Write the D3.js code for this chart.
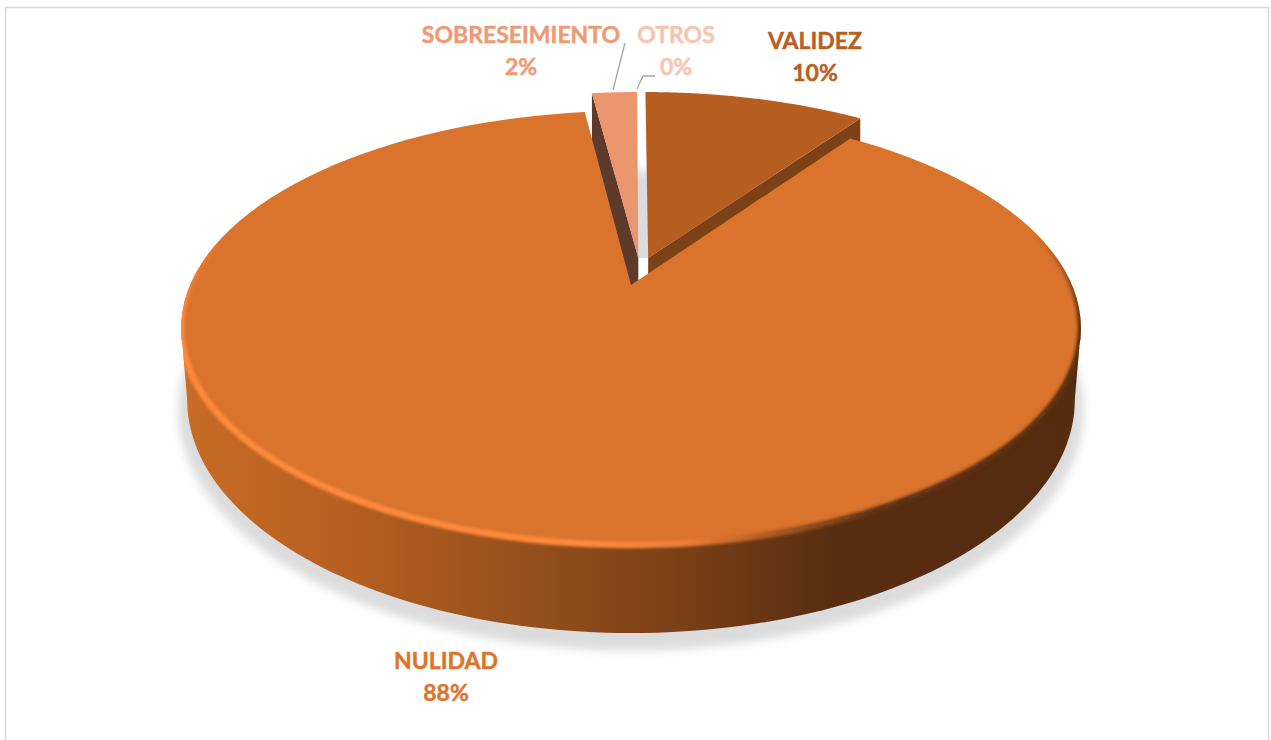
<!DOCTYPE html>
<html><head><meta charset="utf-8">
<script src="https://cdn.jsdelivr.net/npm/d3@7"></script>
<style>html,body{margin:0;padding:0;background:#fff;overflow:hidden}svg{display:block}
text{font-family:Lato,"Open Sans",sans-serif;font-weight:700;font-size:23px;text-anchor:middle;stroke-width:.45px;paint-order:stroke}</style>
</head><body><svg id="c" width="1271" height="740"></svg>
<script>
const categories=["VALIDEZ","NULIDAD","SOBRESEIMIENTO","OTROS"];
const values=[9.8,88.2,2,0];
const faceColors=["#b65e20","#da732c","#ec9670","#ffffff"];
const cutColors=["#7c4116","#7c4116","#5e3a2a","#ffffff"];
const labelColors=["#b85f22","#dc742c","#ee9a75","#f6c5b2"];
const explodeU=[0.04,0,0.017,0.03];
const explodeV=[-0.133,0,-0.133,-0.133];
const labelX=[815,446,521,676];
const labelY=[49,669,43,43];

const svg=d3.select("#c");
const defs=svg.append("defs");
const TOP={x0:631,y0:285,R:441,A:208.5,k:0.198};
const LOW={x0:631,y0:354,R:435,A:223.8,k:0.198};
const proj=(P,u,v)=>{const w=1/(1-P.k*v);return [P.x0+P.R*u*w,P.y0+P.A*v*w];};
const pt=(P,a,eu=0,ev=0,r=1)=>proj(P,r*Math.sin(a)+eu,-r*Math.cos(a)+ev);
const line=d3.line();
const arcPts=(P,a0,a1,eu=0,ev=0,r=1)=>d3.range(0,121).map(i=>pt(P,a0+(a1-a0)*i/120,eu,ev,r));
const arcs=d3.pie().sort(null).value(d=>d)(values);

// gradients and filters
const grad=(id,x1,x2,stops)=>{const g=defs.append("linearGradient").attr("id",id).attr("gradientUnits","userSpaceOnUse")
  .attr("x1",x1).attr("x2",x2).attr("y1",0).attr("y2",0);
  stops.forEach(s=>g.append("stop").attr("offset",s[0]).attr("stop-color",s[1]));};
grad("wall",185,1078,[[0,"#c86c26"],[.2,"#b35e20"],[.4,"#934e1b"],[.55,"#7a4017"],[.73,"#582d11"],[1,"#562c10"]]);
grad("rim",180,1080,[[0,"#ff8a3c"],[.45,"#ff8a3c"],[.56,"#ee8036"],[.62,"#c96a28"],[.7,"#8a4a1a"],[.78,"#5e3012"],[1,"#5a2e11"]]);
const blur=(id,s)=>defs.append("filter").attr("id",id).attr("x","-5%").attr("y","-5%").attr("width","110%").attr("height","110%")
  .append("feGaussianBlur").attr("stdDeviation",s);
blur("soft",5); blur("rimBlur",1.8);
const fade=defs.append("linearGradient").attr("id","fadeGrad").attr("gradientUnits","userSpaceOnUse")
  .attr("x1",0).attr("x2",0).attr("y1",235).attr("y2",325);
fade.append("stop").attr("offset",0).attr("stop-color","#000");
fade.append("stop").attr("offset",1).attr("stop-color","#fff");
defs.append("mask").attr("id","rimFade").attr("maskUnits","userSpaceOnUse")
  .attr("x",0).attr("y",0).attr("width",1271).attr("height",740)
  .append("rect").attr("width",1271).attr("height",740).attr("fill","url(#fadeGrad)");

// frame
svg.append("rect").attr("x",5.5).attr("y",7.5).attr("width",1263).attr("height",760)
  .attr("fill","#fff").attr("stroke","#d9d9d9").attr("stroke-width",1.5);

// ground shadow
const full=2*Math.PI;
svg.append("path").attr("d",line(arcPts({...LOW,y0:LOW.y0+9,R:LOW.R*1.02,A:LOW.A*1.03},0,full))+"Z")
  .attr("fill","#dcdcdc").attr("filter","url(#soft)");

// exploded slices behind the main one: cut wall first, then face
const drop=LOW.y0-TOP.y0+30;
[3,0,2].forEach(i=>{
  const a=arcs[i],eu=explodeU[i],ev=explodeV[i];
  const c=proj(TOP,eu,ev);
  const p0=pt(TOP,a.startAngle,eu,ev), p1=pt(TOP,a.endAngle,eu,ev);
  if(i===0){
    const q=[c,p1,[p1[0],p1[1]+drop],[c[0],c[1]+drop]];
    svg.append("path").attr("d",line(q)+"Z").attr("fill",cutColors[i]);
  }
  if(i===2){
    const q=[c,p0,[p0[0],p0[1]+drop],[c[0],c[1]+drop]];
    svg.append("path").attr("d",line(q)+"Z").attr("fill",cutColors[i]);
  }
  if(i===3){
    const cs=proj(TOP,explodeU[2],explodeV[2]),cv=proj(TOP,explodeU[0],explodeV[0]);
    svg.append("path").attr("d",line([cs,cv,[cv[0],cv[1]+drop],[cs[0],cs[1]+drop]])+"Z").attr("fill",cutColors[i]);
  }
  if(values[i]>0) svg.append("path").attr("d",line([c,...arcPts(TOP,a.startAngle,a.endAngle,eu,ev)])+"Z").attr("fill",faceColors[i]);
});

// main slice: wall, face, rim bevel
const m=arcs[1];
const sil=Math.acos(-TOP.k);           // silhouette angle
const aL=full-sil,aR=sil;
const wallPts=[...arcPts(TOP,aR,aL),...arcPts(LOW,aL,aR)];
svg.append("path").attr("d",line(wallPts)+"Z").attr("fill","url(#wall)");
const facePts=[proj(TOP,0,0),...arcPts(TOP,m.startAngle,m.endAngle)];
svg.append("path").attr("d",line(facePts)+"Z").attr("fill",faceColors[1]);
defs.append("clipPath").attr("id","body").selectAll("path").data([wallPts,facePts]).join("path").attr("d",d=>line(d)+"Z");
svg.append("g").attr("clip-path","url(#body)").append("g").attr("mask","url(#rimFade)")
  .append("path").attr("d",line(arcPts(TOP,Math.PI*0.4,Math.PI*1.62)))
  .attr("fill","none").attr("stroke","url(#rim)").attr("stroke-width",6.5).attr("filter","url(#rimBlur)");

// leader lines
const leaders=[[[613,90],[625,43]],[[637,89],[643,76],[655,76]]];
leaders.forEach(l=>svg.append("path").attr("d",line(l)).attr("fill","none").attr("stroke","#a6a6a6").attr("stroke-width",1.3));

// labels
categories.forEach((c,i)=>{
  const t=svg.append("text").attr("x",labelX[i]).attr("y",labelY[i]).attr("fill",labelColors[i]).attr("stroke",labelColors[i]);
  t.append("tspan").attr("x",labelX[i]).text(c);
  t.append("tspan").attr("x",labelX[i]).attr("dy",32).text(Math.round(values[i])+"%");
});
</script></body></html>
